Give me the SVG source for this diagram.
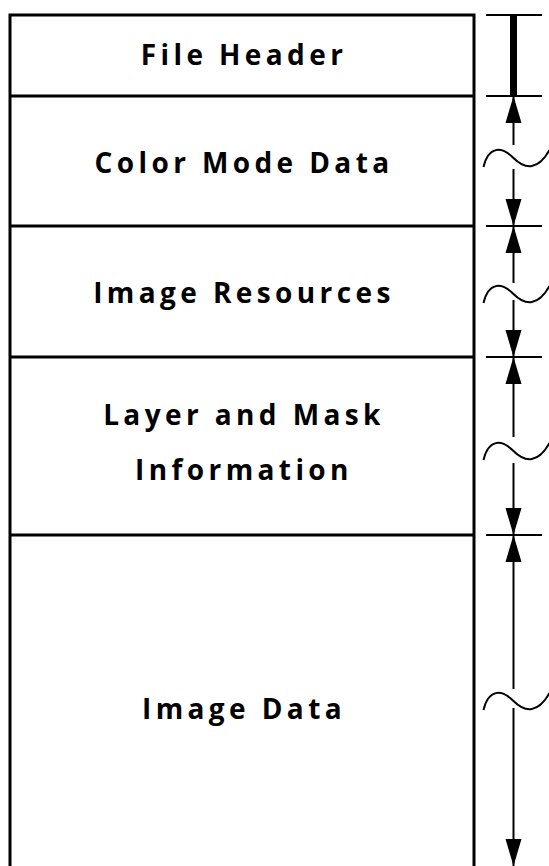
<svg xmlns="http://www.w3.org/2000/svg" xmlns:xlink="http://www.w3.org/1999/xlink" width="549" height="866" viewBox="0 0 549 866">
<style>
.box{fill:none;stroke:#000;stroke-width:3}
.lbl{font-family:"Open Sans","Noto Sans","DejaVu Sans",sans-serif;font-weight:bold;font-size:28px;letter-spacing:4.4px;text-anchor:middle;fill:#000}
.dim{stroke:#000;stroke-width:2;fill:none}
.tick{stroke:#000;stroke-width:2}
.til{stroke:#000;stroke-width:2;fill:none}
</style>
<defs>
<polygon id="up" points="0,0 -8,27 8,27" fill="#000"/>
<polygon id="down" points="0,0 -8,-27 8,-27" fill="#000"/>
<path id="tilde" d="M-30,9 C-25,-12 -12,-12 0,0 S25,12 36,-8" class="til"/>
</defs>
<rect width="549" height="866" fill="#fff"/>
<g id="file-header">
<path class="box" d="M10,866 V15 H474 V866"/>
<text class="lbl" x="244" y="65">File Header</text>
</g>
<g id="color-mode-data">
<line class="box" x1="10" y1="96" x2="474" y2="96"/>
<text class="lbl" x="244" y="173">Color Mode Data</text>
</g>
<g id="image-resources">
<line class="box" x1="10" y1="226" x2="474" y2="226"/>
<text class="lbl" x="244" y="303">Image Resources</text>
</g>
<g id="layer-mask">
<line class="box" x1="10" y1="357" x2="474" y2="357"/>
<text class="lbl" x="244" y="425">Layer and Mask</text>
<text class="lbl" x="244" y="480">Information</text>
</g>
<g id="image-data">
<line class="box" x1="10" y1="535" x2="474" y2="535"/>
<text class="lbl" x="244" y="719">Image Data</text>
</g>
<g id="connectors">
<line class="tick" x1="486" y1="15" x2="542" y2="15"/>
<line class="tick" x1="486" y1="96" x2="542" y2="96"/>
<line class="tick" x1="486" y1="226" x2="542" y2="226"/>
<line class="tick" x1="486" y1="357" x2="542" y2="357"/>
<line class="tick" x1="486" y1="535" x2="542" y2="535"/>
<rect x="510" y="15" width="7" height="81" fill="#000"/>
<line class="dim" x1="513.5" y1="96" x2="513.5" y2="145"/>
<line class="dim" x1="513.5" y1="169" x2="513.5" y2="226"/>
<line class="dim" x1="513.5" y1="226" x2="513.5" y2="283"/>
<line class="dim" x1="513.5" y1="300" x2="513.5" y2="357"/>
<line class="dim" x1="513.5" y1="357" x2="513.5" y2="437"/>
<line class="dim" x1="513.5" y1="463" x2="513.5" y2="535"/>
<line class="dim" x1="513.5" y1="535" x2="513.5" y2="689"/>
<line class="dim" x1="513.5" y1="708" x2="513.5" y2="866"/>
<use xlink:href="#up" x="513.5" y="96"/>
<use xlink:href="#down" x="513.5" y="226"/>
<use xlink:href="#up" x="513.5" y="226"/>
<use xlink:href="#down" x="513.5" y="357"/>
<use xlink:href="#up" x="513.5" y="357"/>
<use xlink:href="#down" x="513.5" y="535"/>
<use xlink:href="#up" x="513.5" y="535"/>
<use xlink:href="#down" x="513.5" y="866"/>
<use xlink:href="#tilde" x="513.5" y="158"/>
<use xlink:href="#tilde" x="513.5" y="294"/>
<use xlink:href="#tilde" x="513.5" y="451"/>
<use xlink:href="#tilde" x="513.5" y="701"/>
</g>
</svg>
